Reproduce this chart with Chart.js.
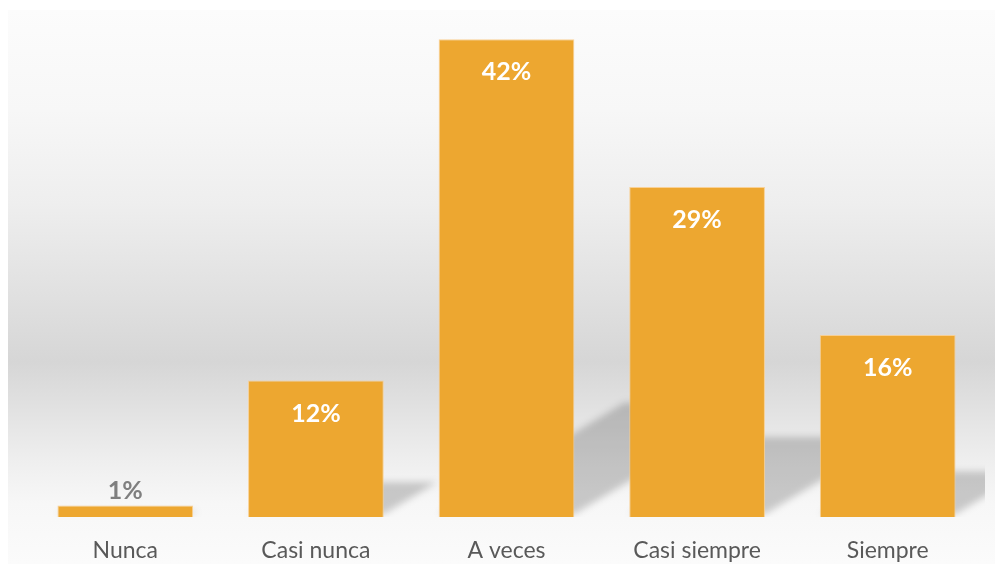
<!DOCTYPE html>
<html>
<head>
<meta charset="utf-8">
<script src="https://cdn.jsdelivr.net/npm/chart.js@4.4.1/dist/chart.umd.min.js"></script>
<style>
  html, body { margin: 0; padding: 0; background: #ffffff; }
  #wrap { position: relative; width: 995px; height: 564px; }
</style>
</head>
<body>
<div id="wrap"><canvas id="c" width="995" height="564"></canvas></div>
<script>
// Survey answers and their share of respondents (%)
const categories = ['Nunca', 'Casi nunca', 'A veces', 'Casi siempre', 'Siempre'];
const percentages = [1, 12, 42, 29, 16];
const valueLabels = ['1%', '12%', '42%', '29%', '16%'];

const BAR_COLOR = 'rgb(237,167,48)';
const FONT = 'Lato, "Open Sans", "DejaVu Sans", sans-serif';

// Soft grey gradient panel behind the plot
const panelBackground = {
  id: 'panelBackground',
  beforeDraw(chart) {
    const { ctx, width, height } = chart;
    ctx.save();
    ctx.fillStyle = '#ffffff';
    ctx.fillRect(0, 0, width, height);
    const top = 10, left = 8;
    const g = ctx.createLinearGradient(0, top, 0, height);
    g.addColorStop(0.00, '#fcfcfc');
    g.addColorStop(0.18, '#f7f7f7');
    g.addColorStop(0.35, '#eeeeee');
    g.addColorStop(0.52, '#e0e0e0');
    g.addColorStop(0.635, '#d6d6d6');
    g.addColorStop(0.73, '#e3e3e3');
    g.addColorStop(0.81, '#eeeeee');
    g.addColorStop(0.89, '#f7f7f7');
    g.addColorStop(1.00, '#fbfbfb');
    ctx.fillStyle = g;
    ctx.fillRect(left, top, width - left, height - top);
    ctx.restore();
  }
};

// Perspective shadow cast to the upper right of each bar
const barShadows = {
  id: 'barShadows',
  beforeDatasetsDraw(chart) {
    const { ctx, chartArea } = chart;
    const meta = chart.getDatasetMeta(0);
    ctx.save();
    ctx.beginPath();
    ctx.rect(chartArea.left, chartArea.top, chartArea.right - chartArea.left + 2, chartArea.bottom - chartArea.top);
    ctx.clip();
    ctx.filter = 'blur(3.5px)';
    ctx.fillStyle = 'rgba(0,0,0,0.19)';
    meta.data.forEach(bar => {
      const p = bar.getProps(['x', 'y', 'base', 'width'], true);
      const x0 = p.x - p.width / 2, x1 = p.x + p.width / 2;
      const h = p.base - p.y;
      const sh = h * 0.233;          // flattened shadow height
      const dx = sh / 0.6;           // lean to the right
      const b = p.base - 3;
      ctx.beginPath();
      ctx.moveTo(x0, b);
      ctx.lineTo(x1, b);
      ctx.lineTo(x1 + dx, b - sh);
      ctx.lineTo(x0 + dx, b - sh);
      ctx.closePath();
      ctx.fill();
    });
    ctx.restore();
  }
};

// Percentage labels: inside the bar near its top, or above very short bars
const valueText = {
  id: 'valueText',
  afterDatasetsDraw(chart) {
    const { ctx } = chart;
    const meta = chart.getDatasetMeta(0);
    ctx.save();
    ctx.textAlign = 'center';
    ctx.textBaseline = 'middle';
    ctx.font = 'bold 25px ' + FONT;
    meta.data.forEach((bar, i) => {
      const p = bar.getProps(['x', 'y', 'base'], true);
      const h = p.base - p.y;
      if (h > 50) {
        ctx.fillStyle = '#ffffff';
        ctx.fillText(valueLabels[i], p.x, p.y + 33);
      } else {
        ctx.fillStyle = '#7f7f7f';
        ctx.fillText(valueLabels[i], p.x, p.y - 15);
      }
    });
    ctx.restore();
  }
};

new Chart(document.getElementById('c'), {
  type: 'bar',
  data: {
    labels: categories,
    datasets: [{
      data: percentages,
      backgroundColor: BAR_COLOR,
      borderColor: 'rgba(250,205,140,0.9)',
      borderWidth: 1,
      categoryPercentage: 1.0,
      barPercentage: 0.712
    }]
  },
  options: {
    responsive: false,
    animation: false,
    devicePixelRatio: 1,
    layout: { padding: { left: 30, right: 12, top: 5, bottom: 0 } },
    plugins: { legend: { display: false }, tooltip: { enabled: false } },
    scales: {
      x: {
        grid: { display: false, drawTicks: false },
        border: { display: false },
        ticks: {
          color: '#595959',
          font: { family: FONT, size: 23 },
          padding: 20
        },
        afterFit(scale) { scale.height = 47; }
      },
      y: {
        display: false,
        min: 0,
        max: 45
      }
    }
  },
  plugins: [panelBackground, barShadows, valueText]
});
</script>
</body>
</html>
